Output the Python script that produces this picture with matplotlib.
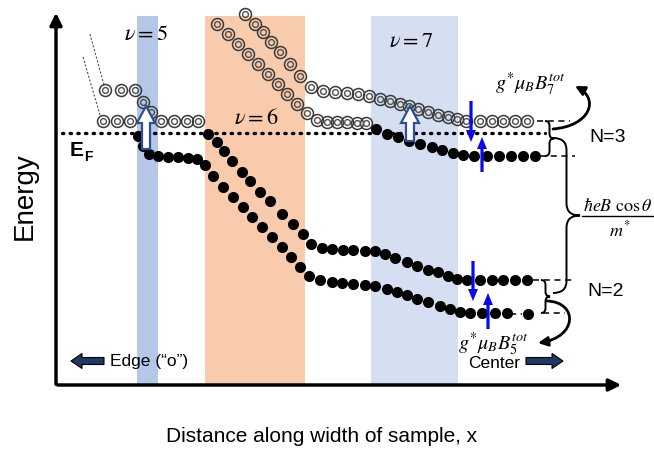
import matplotlib
matplotlib.use("Agg")
import matplotlib.pyplot as plt
from matplotlib.patches import Rectangle, FancyArrow, FancyArrowPatch, PathPatch
from matplotlib.path import Path

# schematic drawn in picture units (x to the right, energy upwards = smaller y)
# filling-factor bands
band_x0 = [137, 205, 371]
band_x1 = [158, 305, 458]
band_colors = ['#b4c7e7', '#f8cbad', '#d5dff1']
band_labels = [r'$\nu = 5$', r'$\nu = 6$', r'$\nu = 7$']
band_label_x = [146, 256, 411]
band_label_y = [34, 118, 41]

fermi_y = 134

# N=2 upper spin level
a_open_x = [105, 121, 135, 143, 151, 161, 174, 187, 198]
a_open_y = [91, 91, 91, 103, 113, 122, 122, 122, 122]
a_fill_x = [208, 217, 224, 232, 242, 250, 260, 270, 282, 293, 303, 311,
            322, 332, 343, 353, 365, 375, 385, 395, 407, 417, 428, 438,
            448, 457, 467, 480, 492, 503, 515, 527]
a_fill_y = [135, 143, 152, 162, 173, 182, 193, 202, 215, 225, 235, 245,
            249, 250, 251, 251, 252, 252, 255, 259, 263, 267, 271, 273,
            277, 280, 281, 281, 281, 281, 281, 281]

# N=2 lower spin level
b_open_x = [103, 117, 130]
b_open_y = [122, 122, 122]
b_fill_x = [138, 143, 149, 158, 168, 178, 188, 197, 205, 213, 223, 233,
            243, 252, 262, 272, 282, 291, 300, 309, 320, 332, 342, 353,
            365, 375, 387, 397, 407, 417, 428, 440, 450, 460, 470, 482,
            495, 507, 528]
b_fill_y = [137, 147, 155, 157, 158, 158, 159, 160, 166, 177, 188, 198,
            208, 218, 228, 238, 248, 258, 268, 277, 281, 283, 284, 285,
            286, 287, 290, 293, 296, 300, 303, 307, 310, 313, 314, 314,
            314, 314, 315]

# N=3 lower spin level
c_open_x = [217, 228, 238, 248, 258, 268, 278, 287, 297, 307, 317, 327,
            337, 347, 357, 366]
c_open_y = [25, 35, 45, 55, 65, 75, 85, 95, 105, 114, 121, 123,
            123, 123, 124, 124]
c_fill_x = [376, 387, 398, 409, 420, 432, 442, 453, 463, 474, 487, 499,
            511, 523, 535]
c_fill_y = [130, 135, 138, 142, 145, 148, 151, 154, 156, 157, 157, 157,
            157, 157, 157]

# N=3 upper spin level (empty)
d_open_x = [245, 255, 263, 271, 280, 290, 300, 311, 323, 335, 347, 358,
            369, 380, 390, 400, 409, 418, 428, 438, 448, 457, 466, 480,
            492, 503, 515, 527]
d_open_y = [15, 25, 33, 43, 53, 65, 77, 88, 92, 93, 94, 95,
            97, 100, 102, 105, 107, 110, 113, 116, 118, 120, 122, 122,
            122, 122, 122, 122]

# edge continuation of the levels
edge_x = [[90, 104], [83, 100]]
edge_y = [[35, 86], [58, 116]]

# level markers on the right
mark_x0 = [537, 540, 533, 543]
mark_x1 = [570, 575, 572, 565]
mark_y = [122, 157, 281, 314]

# spin arrows (x, tail y, head y)
spin_x = [471, 482, 473, 488]
spin_tail = [102, 173, 262, 330]
spin_head = [143, 138, 302, 294]

# hollow excitation arrows
exc_x = [146, 410]
exc_tail = [150, 142]
exc_head = [107, 107]

fig = plt.figure(figsize=(6.54, 4.52), dpi=100)
ax = fig.add_axes([0, 0, 1, 1])
ax.set_xlim(0, 654)
ax.set_ylim(452, 0)
ax.axis('off')

sans = 'Liberation Sans'
plt.rcParams['mathtext.fontset'] = 'stix'

for x0, x1, c in zip(band_x0, band_x1, band_colors):
    ax.add_patch(Rectangle((x0, 17), x1 - x0, 368, color=c, lw=0, zorder=0))
for lab, x, y in zip(band_labels, band_label_x, band_label_y):
    ax.text(x, y, lab, fontsize=16, ha='center', va='center', zorder=5)

# axes arrows
ax.annotate('', xy=(56, 11), xytext=(56, 388),
            arrowprops=dict(arrowstyle='-|>', lw=2.5, color='black', mutation_scale=18))
ax.annotate('', xy=(624, 386), xytext=(55, 386),
            arrowprops=dict(arrowstyle='-|>', lw=2.5, color='black', mutation_scale=18))
ax.text(25, 196, 'Energy', rotation=90, fontsize=20, family=sans, ha='center', va='center')
ax.text(322, 437, 'Distance along width of sample, x', fontsize=15, family=sans,
        ha='center', va='center')

# Fermi level
ax.plot([62, 545], [fermi_y, fermi_y], color='black', lw=2.4,
        linestyle=(0, (0.4, 1.9)), dash_capstyle='round', zorder=1)
ax.text(70, 151, 'E', fontsize=15, fontweight='bold', family=sans, ha='left', va='center')
ax.text(84, 157, 'F', fontsize=10, fontweight='bold', family=sans, ha='left', va='center')

for ex, ey in zip(edge_x, edge_y):
    ax.plot(ex, ey, color='#555555', lw=0.8, linestyle=(0, (2, 1.5)), zorder=1)


def open_states(xs, ys):
    ax.plot(xs, ys, 'o', ms=8.6, mfc='none', mec='#3a3a3a', mew=1.1, zorder=3)
    ax.plot(xs, ys, 'o', ms=4.2, mfc='none', mec='#505050', mew=1.0, zorder=3)


def filled_states(xs, ys):
    ax.plot(xs, ys, 'o', ms=8, color='black', mew=0, zorder=3)


open_states(a_open_x, a_open_y)
filled_states(a_fill_x, a_fill_y)
open_states(b_open_x, b_open_y)
filled_states(b_fill_x, b_fill_y)
open_states(c_open_x, c_open_y)
filled_states(c_fill_x, c_fill_y)
open_states(d_open_x, d_open_y)

for x0, x1, y in zip(mark_x0, mark_x1, mark_y):
    ax.plot([x0, x1], [y, y], color='black', lw=1.1, linestyle=(0, (4, 3)), zorder=2)
ax.plot([510, 522], [315, 315], color='black', lw=1.1, linestyle=(0, (4, 3)), zorder=2)

for x, t, h in zip(spin_x, spin_tail, spin_head):
    ax.add_patch(FancyArrow(x, t, 0, h - t, width=3.2, head_width=10, head_length=12,
                            length_includes_head=True, color='#0a0ae6', lw=0, zorder=6))

for x, t, h in zip(exc_x, exc_tail, exc_head):
    ax.add_patch(FancyArrow(x, t, 0, h - t, width=8, head_width=18, head_length=17,
                            length_includes_head=True, fc='white', ec='#2f4f8f',
                            lw=1.6, zorder=6))


def brace(x, y0, y1, depth, r, lw=1.4):
    h = depth / 2
    ym = (y0 + y1) / 2
    verts = [(x, y0), (x + h, y0), (x + h, y0 + r), (x + h, ym - r),
             (x + h, ym), (x + depth, ym), (x + h, ym), (x + h, ym + r),
             (x + h, y1 - r), (x + h, y1), (x, y1)]
    codes = [Path.MOVETO, Path.CURVE3, Path.CURVE3, Path.LINETO,
             Path.CURVE3, Path.CURVE3, Path.CURVE3, Path.CURVE3,
             Path.LINETO, Path.CURVE3, Path.CURVE3]
    ax.add_patch(PathPatch(Path(verts, codes), fc='none', ec='black', lw=lw, zorder=4))


brace(545, 122, 157, 9, 5)
brace(541, 281, 314, 9, 5)
brace(553, 139, 294, 27, 12)

c4 = [Path.MOVETO, Path.CURVE4, Path.CURVE4, Path.CURVE4]
up_curve = Path([(553, 130), (590, 127), (600, 100), (575, 87)], c4)
low_curve = Path([(547, 302), (578, 303), (578, 338), (538, 344)], c4)
for pth in (up_curve, low_curve):
    ax.add_patch(FancyArrowPatch(path=pth, arrowstyle='-|>', mutation_scale=14,
                                 lw=2, color='black', zorder=4))

ax.text(530, 84, r'$g^{*}\mu_{B}B_{7}^{tot}$', fontsize=14.5, ha='center', va='center')
ax.text(493, 344, r'$g^{*}\mu_{B}B_{5}^{tot}$', fontsize=14.5, ha='center', va='center')
ax.text(618, 206, r'$\hbar eB\ \cos\theta$', fontsize=13, ha='center', va='center')
ax.plot([582, 654], [217, 217], color='black', lw=1)
ax.text(620, 230, r'$m^{*}$', fontsize=13, ha='center', va='center')
ax.text(608, 138, 'N=3', fontsize=14, family=sans, ha='center', va='center')
ax.text(606, 292, 'N=2', fontsize=14, family=sans, ha='center', va='center')

# edge / center markers
ax.add_patch(FancyArrow(104, 362, -33, 0, width=7, head_width=15, head_length=11,
                        length_includes_head=True, fc='#1f3864', ec='black', lw=0.8))
ax.add_patch(FancyArrow(526, 362, 37, 0, width=7, head_width=15, head_length=11,
                        length_includes_head=True, fc='#1f3864', ec='black', lw=0.8))
ax.text(110, 362, 'Edge (\u201co\u201d)', fontsize=12.5, family=sans, ha='left', va='center')
ax.text(468, 364, 'Center', fontsize=12.5, family=sans, ha='left', va='center')

fig.savefig('out.png', dpi=100)
